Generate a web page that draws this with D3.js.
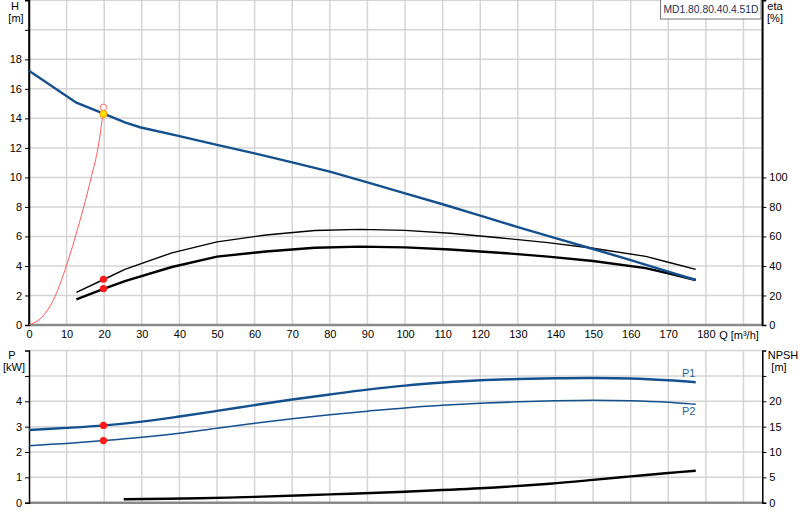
<!DOCTYPE html>
<html><head><meta charset="utf-8">
<script src="https://cdn.jsdelivr.net/npm/d3@7"></script>
<style>
body{margin:0;background:#fff;}
svg{display:block;font-family:"Liberation Sans",Arial,sans-serif;}
</style></head>
<body>
<svg id="c" width="800" height="520"></svg>
<script>
// ---- data ----
const qTicks = [0,10,20,30,40,50,60,70,80,90,100,110,120,130,140,150,160,170,180];
const hTicks = [0,2,4,6,8,10,12,14,16,18,20];
const etaTicks = [0,20,40,60,80,100];
const pTicks = [0,1,2,3,4,5];
const npshTicks = [0,5,10,15,20,25];

const hQ = [0,12.6,20,25.5,29.5,40,50,60,70,80,90,100,110,120,130,140,150,160,170,177.3];
const hVal = [17.23,15.06,14.3,13.73,13.4,12.8,12.2,11.63,11.02,10.39,9.67,8.92,8.18,7.41,6.63,5.88,5.15,4.40,3.62,3.05];

const etaQ = [12.6,20,25.5,38,50,63,76,88,100,112,125,138,150,164,170,177.3];
const eta1 = [22.1,31,37.7,48.9,56.3,61,64,64.8,64.1,62.2,59.1,55.8,52,46.5,42.5,37.7];
const eta2 = [17.4,24.6,29.8,39.3,46.3,49.8,52.3,53.1,52.6,51.2,49,46.3,43.4,38.5,35,30.5];

const sysQ = [0,4.3,6.9,10,13.1,16.6,18.4,19.9];
const sysH = [0,0.79,1.92,4.06,6.66,10.05,12.08,14.75];

const pQ = [0,10,20,30,40,50,60,70,80,90,100,110,120,130,140,150,160,170,177.3];
const p1 = [2.87,2.95,3.05,3.2,3.4,3.62,3.85,4.07,4.27,4.46,4.62,4.74,4.83,4.88,4.91,4.92,4.9,4.83,4.75];
const p2 = [2.25,2.34,2.45,2.58,2.74,2.94,3.13,3.31,3.47,3.61,3.74,3.84,3.92,3.98,4.02,4.04,4.02,3.96,3.88];

const npshQ = [25.2,45.4,60,80,100,120,138.4,150,160,170,177.3];
const npsh = [0.67,0.87,1.15,1.64,2.17,2.84,3.75,4.5,5.2,5.85,6.31];

const dutyQ = 19.8;
const dutyH = 14.3, reqH = 14.75;
const dutyEta1 = 31, dutyEta2 = 24.6;
const dutyP1 = 3.05, dutyP2 = 2.45;

const pumpName = "MD1.80.80.40.4.51D";

// ---- scales ----
const svg = d3.select("#c");
const x = d3.scaleLinear().domain([0,195]).range([29,762.3]);
const yH = d3.scaleLinear().domain([0,22]).range([325,0.3]);
const yEta = d3.scaleLinear().domain([0,220]).range([325,0.3]);
const yP = d3.scaleLinear().domain([0,6]).range([502.7,350.6]);
const yN = d3.scaleLinear().domain([0,30]).range([502.7,350.6]);

const gridCol = "#d4d4d4";
const blue = "#14508e";

function grid(yScale, yVals){
  const g = svg.append("g");
  const [y0,y1] = yScale.range();
  g.selectAll("line.v").data(d3.range(10,200,10)).join("line")
    .attr("x1",d=>x(d)).attr("x2",d=>x(d)).attr("y1",y0).attr("y2",y1)
    .attr("stroke",gridCol).attr("stroke-width",1.5);
  g.selectAll("line.h").data(yVals).join("line")
    .attr("x1",x.range()[0]).attr("x2",x.range()[1]).attr("y1",d=>yScale(d)).attr("y2",d=>yScale(d))
    .attr("stroke",gridCol).attr("stroke-width",1.5);
}
grid(yH, d3.range(2,23,2));
grid(yP, [1,2,3,4,5,6]);

// bottom axis lines (gray)
[[yH,325],[yP,502.7]].forEach(([s,yy])=>{
  svg.append("line").attr("x1",x(0)).attr("x2",x(195)).attr("y1",yy).attr("y2",yy)
    .attr("stroke","#8a8a8a").attr("stroke-width",2.5);
});

// x tick labels (top panel)
svg.append("g").attr("transform","translate(0,325)")
  .call(d3.axisBottom(x).tickValues(qTicks).tickSize(0).tickPadding(5).tickFormat(d3.format("d")))
  .call(g=>g.select(".domain").remove())
  .call(g=>g.selectAll("text").attr("font-size",11).attr("fill","#000").attr("font-family","Liberation Sans,Arial,sans-serif"));

function yAxis(scale, vals, labelled, side){
  const ax = (side==="left"?d3.axisLeft(scale):d3.axisRight(scale))
    .tickValues(vals).tickSize(4).tickPadding(3)
    .tickFormat(d=>labelled.includes(d)?d:"");
  const xx = side==="left"?x(0):x(195);
  svg.append("g").attr("transform",`translate(${xx},0)`).call(ax)
    .call(g=>g.select(".domain").attr("stroke","#000").attr("stroke-width",1.5))
    .call(g=>g.selectAll(".tick line").attr("stroke","#000"))
    .call(g=>g.selectAll("text").attr("font-size",11).attr("fill","#000").attr("font-family","Liberation Sans,Arial,sans-serif"));
}
yAxis(yH, hTicks, [0,2,4,6,8,10,12,14,16,18], "left");
yAxis(yEta, etaTicks, etaTicks, "right");
yAxis(yP, pTicks, [0,1,2,3,4], "left");
yAxis(yN, npshTicks, [0,5,10,15,20], "right");
svg.append("line").attr("x1",x(0)).attr("x2",x(0)).attr("y1",0).attr("y2",325).attr("stroke","#000").attr("stroke-width",1.5);
svg.append("line").attr("x1",x(195)).attr("x2",x(195)).attr("y1",0).attr("y2",325).attr("stroke","#000").attr("stroke-width",1.5);

function txt(t,xx,yy,anchor,size,col){
  return svg.append("text").attr("x",xx).attr("y",yy).attr("text-anchor",anchor||"middle")
    .attr("dominant-baseline","central").attr("font-size",size||11).attr("fill",col||"#000").text(t);
}
txt("H",15,6);
txt("[m]",16,18);
txt("eta",775,6);
txt("[%]",775,18);
txt("Q [m³/h]",739,335);
txt("P",12,355);
txt("[kW]",14,367);
txt("NPSH",783,355);
txt("[m]",779,367);

// legend box
svg.append("rect").attr("x",660.5).attr("y",-1).attr("width",100.5).attr("height",20)
  .attr("fill","#fff").attr("stroke","#777").attr("stroke-width",1);
txt(pumpName,711,9,"middle",10.5,"#1a2f55").attr("textLength",95).attr("lengthAdjust","spacingAndGlyphs");

// ---- curves ----
const line = (xs, ys, ys_scale, curve)=>d3.line().curve(curve||d3.curveMonotoneX)
  .x((d,i)=>x(xs[i])).y((d,i)=>ys_scale(ys[i]))(ys);

svg.append("path").attr("d",line(sysQ,sysH,yH)).attr("fill","none").attr("stroke","#ff5a5a").attr("stroke-width",1);
svg.append("path").attr("d",line(etaQ,eta1,yEta,d3.curveLinear)).attr("fill","none").attr("stroke","#000").attr("stroke-width",1.4);
svg.append("path").attr("d",line(etaQ,eta2,yEta,d3.curveLinear)).attr("fill","none").attr("stroke","#000").attr("stroke-width",2.4);
svg.append("path").attr("d",line(hQ,hVal,yH,d3.curveLinear)).attr("fill","none").attr("stroke",blue).attr("stroke-width",2.4);

svg.append("path").attr("d",line(pQ,p1,yP,d3.curveCatmullRom)).attr("fill","none").attr("stroke",blue).attr("stroke-width",2.4);
svg.append("path").attr("d",line(pQ,p2,yP,d3.curveCatmullRom)).attr("fill","none").attr("stroke",blue).attr("stroke-width",1.5);
svg.append("path").attr("d",line(npshQ,npsh,yN,d3.curveCatmullRom)).attr("fill","none").attr("stroke","#000").attr("stroke-width",2.4);

txt("P1",x(177.3)-7,373,"middle",11,"#1f5fa0");
txt("P2",x(177.3)-7,411,"middle",11,"#1f5fa0");

// duty points
svg.append("circle").attr("cx",x(dutyQ)).attr("cy",yH(reqH)).attr("r",3.2)
  .attr("fill","#fff").attr("stroke","#ff6b6b").attr("stroke-width",1);
svg.append("circle").attr("cx",x(dutyQ)).attr("cy",yH(dutyH)).attr("r",3.6)
  .attr("fill","#ffe600").attr("stroke","#ff8c00").attr("stroke-width",1);
[[dutyEta1,yEta],[dutyEta2,yEta],[dutyP1,yP],[dutyP2,yP]].forEach(([v,s])=>{
  svg.append("circle").attr("cx",x(dutyQ)).attr("cy",s(v)).attr("r",3.6).attr("fill","#ff1a1a");
});
</script>
</body></html>
